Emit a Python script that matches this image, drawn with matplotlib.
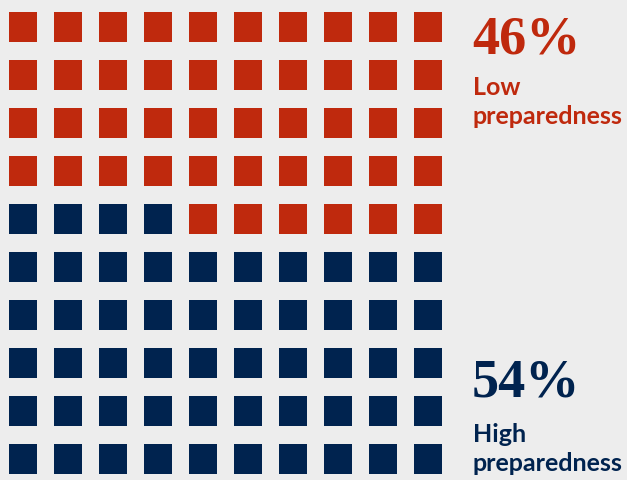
import matplotlib
matplotlib.use("Agg")
import matplotlib.pyplot as plt
from matplotlib.patches import Rectangle

# data
categories = ["Low preparedness", "High preparedness"]
shares = [46, 54]
colors = ["#BF290D", "#00234F"]
n_rows, n_cols = 10, 10

bg = "#EDEDED"
fig = plt.figure(figsize=(6.27, 4.81), dpi=100, facecolor=bg)
ax = fig.add_axes([0, 0, 1, 1])
ax.set_facecolor(bg)
ax.set_xlim(0, 627)
ax.set_ylim(481, 0)
ax.axis("off")

# waffle: fill from the top row, right to left, with the first category
cells = []
for cat_idx, n in enumerate(shares):
    cells += [cat_idx] * n

x0, y0 = 9, 13
dx, dy = 45, 48
w, h = 28, 30
for k, cat_idx in enumerate(cells):
    r = k // n_cols
    c = n_cols - 1 - (k % n_cols)
    ax.add_patch(Rectangle((x0 + c * dx, y0 + r * dy), w, h,
                           facecolor=colors[cat_idx], edgecolor="none"))

# labels (baselines in pixels)
tx = 472
pct_base = [53, 397]
label_base = [95, 442]
line_gap = 29
for i, cat in enumerate(categories):
    ax.text(tx, pct_base[i], f"{shares[i]}%", color=colors[i], fontsize=39,
            fontweight="bold", family="Liberation Serif", va="baseline", ha="left")
    for j, word in enumerate(cat.split(" ")):
        ax.text(tx + 1, label_base[i] + j * line_gap, word, color=colors[i],
                fontsize=18, fontweight="bold", family="Lato",
                va="baseline", ha="left")

fig.savefig("out.png", dpi=100, facecolor=bg)
